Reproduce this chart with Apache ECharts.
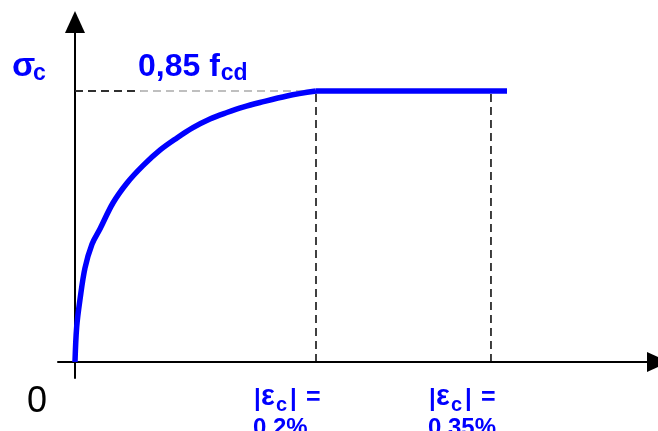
<!DOCTYPE html>
<html><head><meta charset="utf-8">
<script src="https://cdn.jsdelivr.net/npm/echarts@6/dist/echarts.min.js"></script>
<style>html,body{margin:0;padding:0;background:#fff;overflow:hidden}#c{width:658px;height:431px}</style>
</head><body><div id="c"></div>
<script>
// strain in per mille, stress normalised by 0.85 fcd
const curveStrain = [0, 0.014, 0.041, 0.083, 0.141, 0.207, 0.315, 0.432, 0.564, 0.705, 0.846, 0.979, 1.120, 1.261, 1.394, 1.535, 1.759, 2.0];
const curveStress = [0, 0.129, 0.229, 0.347, 0.435, 0.491, 0.587, 0.661, 0.725, 0.782, 0.827, 0.865, 0.897, 0.921, 0.941, 0.958, 0.982, 1.0];
const plateauStrain = [2.0, 3.585];
const peakStress = 1.0;
const markStrain = [2.0, 3.452];
const markValues = ['0,2%', '0,35%'];
const blackDashEnd = 0.54;
const originLabel = '0';
const stressLabel = ['σ', 'c'];
const peakLabel = ['0,85 f', 'cd'];
const strainLabel = ['|', 'ε', 'c', '|', '='];

const BLUE = '#0000FF';
const FONT = '"Liberation Sans", Arial, sans-serif';
const chart = echarts.init(document.getElementById('c'), null, {renderer: 'canvas'});

const curveData = curveStrain.map((x, i) => [x, curveStress[i]]);
const plateauData = plateauStrain.map(x => [x, peakStress]);

const series = [
  {type: 'line', data: [[0, peakStress], [markStrain[0], peakStress]], symbol: 'none', silent: true,
   lineStyle: {color: '#aaaaaa', width: 1.5, type: [8, 5]}, z: 1},
  {type: 'line', data: [[0, peakStress], [blackDashEnd, peakStress]], symbol: 'none', silent: true,
   lineStyle: {color: '#000', width: 1.5, type: [8, 5]}, z: 2}
];
markStrain.forEach(m => series.push({type: 'line', data: [[m, 0], [m, peakStress]], symbol: 'none', silent: true,
  lineStyle: {color: '#000', width: 1.5, type: [8, 5]}, z: 2}));
series.push({type: 'line', data: curveData, symbol: 'none', smooth: 0.35, silent: true,
  lineStyle: {color: BLUE, width: 5.5}, z: 5});
series.push({type: 'line', data: plateauData, symbol: 'none', silent: true,
  lineStyle: {color: BLUE, width: 5.5, cap: 'butt'}, z: 5});

chart.setOption({
  animation: false,
  backgroundColor: '#fff',
  grid: {left: 58, right: 0, top: 22, bottom: 53, containLabel: false},
  xAxis: {type: 'value', min: -0.141, max: 4.838,
    axisLine: {onZero: true, symbol: ['none', 'triangle'], symbolSize: [20, 22], lineStyle: {color: '#000', width: 2}},
    axisTick: {show: false}, axisLabel: {show: false}, splitLine: {show: false}},
  yAxis: {type: 'value', min: -0.059, max: 1.255,
    axisLine: {onZero: true, symbol: ['none', 'triangle'], symbolSize: [20, 22], lineStyle: {color: '#000', width: 2}},
    axisTick: {show: false}, axisLabel: {show: false}, splitLine: {show: false}},
  series: series
});

const mctx = document.createElement('canvas').getContext('2d');
function fontOf(fs, bold) { return (bold ? 'bold ' : '') + fs + 'px ' + FONT; }
function width(str, fs, bold) { mctx.font = fontOf(fs, bold); return mctx.measureText(str).width; }
function txt(str, x, baseline, fs, bold, color) {
  return {type: 'text', x: x, y: baseline - 0.35 * fs, silent: true, z: 10,
    style: {text: str, font: fontOf(fs, bold), fill: color, align: 'left', verticalAlign: 'middle'}};
}
const o = chart.convertToPixel({gridIndex: 0}, [0, 0]);
const pk = chart.convertToPixel({gridIndex: 0}, [0, peakStress]);
const els = [];
els.push(txt(stressLabel[0], o[0] - 63, pk[1] - 13, 34, true, BLUE));
els.push(txt(stressLabel[1], o[0] - 42, pk[1] - 9, 23, true, BLUE));
const px0 = o[0] + 63;
els.push(txt(peakLabel[0], px0, pk[1] - 13, 32, true, BLUE));
els.push(txt(peakLabel[1], px0 + width(peakLabel[0], 32, true) + 1, pk[1] - 9, 23, true, BLUE));
els.push(txt(originLabel, o[0] - 48, o[1] + 53, 36, false, '#000'));
markStrain.forEach((m, i) => {
  const p = chart.convertToPixel({gridIndex: 0}, [m, 0]);
  const lx = p[0] - 63;
  const base = p[1] + 45;
  els.push(txt(strainLabel[0], lx + 1, base + 1, 24, true, BLUE));
  els.push(txt(strainLabel[1], lx + 8, base, 29, true, BLUE));
  els.push(txt(strainLabel[2], lx + 23, base + 5, 20, true, BLUE));
  els.push(txt(strainLabel[3], lx + 37, base + 1, 24, true, BLUE));
  els.push(txt(strainLabel[4], lx + 53, base, 25, true, BLUE));
  els.push(txt(markValues[i], lx, base + 30, 24, true, BLUE));
});
chart.setOption({graphic: els});
</script></body></html>
